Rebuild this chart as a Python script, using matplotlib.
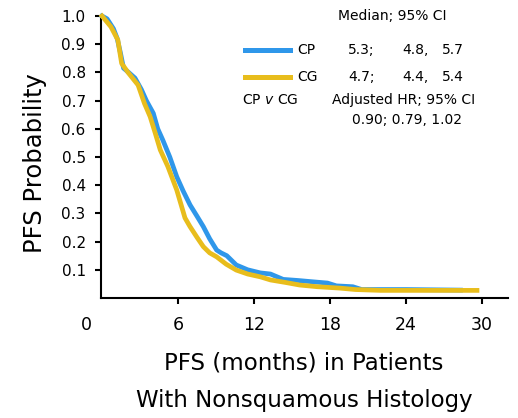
import matplotlib
matplotlib.use("Agg")
import matplotlib.pyplot as plt
from matplotlib.lines import Line2D
from matplotlib import font_manager

# ---- data ----
cp_t = [0, 0.4, 0.9, 1.2, 1.45, 1.7, 2.1, 2.6, 3.1, 3.5, 4.05, 4.4, 4.8, 5.35, 5.9, 6.4,
        6.95, 7.5, 8.0, 8.5, 9.05, 9.4, 9.85, 10.6, 11.5, 12.5, 13.3, 14.3, 15.5, 16.5,
        17.8, 18.5, 19.8, 20.5, 24.0, 28.3]
cp_s = [1.0, 0.99, 0.955, 0.92, 0.87, 0.815, 0.80, 0.78, 0.74, 0.70, 0.655, 0.60, 0.56,
        0.50, 0.43, 0.38, 0.33, 0.29, 0.253, 0.21, 0.17, 0.16, 0.15, 0.117, 0.10, 0.089,
        0.085, 0.066, 0.062, 0.058, 0.053, 0.043, 0.04, 0.03, 0.03, 0.028]

cg_t = [0, 0.7, 1.25, 1.55, 2.05, 2.85, 3.35, 3.8, 4.2, 4.6, 5.2, 5.9, 6.55, 6.95, 7.5,
        8.0, 8.5, 9.05, 9.8, 10.6, 11.5, 12.5, 13.3, 14.5, 15.6, 17.0, 18.8, 20.0, 22.0,
        25.0, 29.6]
cg_s = [1.0, 0.962, 0.915, 0.832, 0.80, 0.755, 0.69, 0.643, 0.585, 0.525, 0.466, 0.383,
        0.284, 0.253, 0.215, 0.182, 0.16, 0.146, 0.12, 0.099, 0.085, 0.075, 0.064, 0.055,
        0.046, 0.04, 0.035, 0.03, 0.027, 0.027, 0.027]

x_ticks = [6, 12, 18, 24, 30]
x_ticklabels = ["6", "12", "18", "24", "30"]
y_ticks = [0.1, 0.2, 0.3, 0.4, 0.5, 0.6, 0.7, 0.8, 0.9, 1.0]
y_ticklabels = ["0.1", "0.2", "0.3", "0.4", "0.5", "0.6", "0.7", "0.8", "0.9", "1.0"]

series_names = ["CP", "CG"]
medians = [["5.3;", "4.8,", "5.7"], ["4.7;", "4.4,", "5.4"]]
hr_text = "0.90; 0.79, 1.02"

BLUE = "#2f97ea"
YELLOW = "#e8bd1c"

plt.rcParams["font.family"] = ["DejaVu Sans"]

W, H = 518, 418
fig = plt.figure(figsize=(W / 100, H / 100), dpi=100)

def fx(px):
    return px / W

def fy(py):
    return 1 - py / H

ax = fig.add_axes([fx(101), fy(298), fx(508) - fx(101), fy(16) - fy(298)])
ax.set_xlim(-0.08, 32.05)
ax.set_ylim(0, 1.0)

ax.plot(cp_t, cp_s, color=BLUE, lw=3.4, solid_joinstyle="round", clip_on=False, zorder=3)
ax.plot(cg_t, cg_s, color=YELLOW, lw=3.4, solid_joinstyle="round", clip_on=False, zorder=4)

for s in ["top", "right"]:
    ax.spines[s].set_visible(False)
for s in ["left", "bottom"]:
    ax.spines[s].set_linewidth(1.5)
    ax.spines[s].set_color("black")

TICK_LEN, XPAD = 4, 9
ax.set_xticks(x_ticks)
ax.set_xticklabels(x_ticklabels, fontsize=12.5)
ax.set_yticks(y_ticks)
ax.set_yticklabels(y_ticklabels, fontsize=11)
ax.tick_params(axis="x", direction="out", length=TICK_LEN, width=1.5, pad=XPAD)
ax.tick_params(axis="y", direction="out", length=TICK_LEN, width=1.5, pad=7)
ax.annotate("0", xy=(-1.2, 0), xycoords=("data", "axes fraction"),
            xytext=(0, -(TICK_LEN + XPAD)), textcoords="offset points",
            ha="center", va="top", fontsize=12.5, annotation_clip=False)

# y label
fig.text(fx(35), fy(163), "PFS Probability", rotation=90, ha="center", va="center",
         fontsize=17.5)

# x label (condensed font if available)
names = {f.name for f in font_manager.fontManager.ttflist}
if "Liberation Sans Narrow" in names:
    xl_family, xl_size = ["Liberation Sans Narrow", "DejaVu Sans"], 20
else:
    xl_family, xl_size = ["DejaVu Sans"], 16.5
fig.text(fx(304), fy(363), "PFS (months) in Patients", ha="center", va="center",
         fontsize=xl_size, family=xl_family)
fig.text(fx(304), fy(400), "With Nonsquamous Histology", ha="center", va="center",
         fontsize=xl_size, family=xl_family)

# legend / annotation block
fs = 10
fig.text(fx(338), fy(16), "Median; 95% CI", ha="left", va="center", fontsize=fs)
rows_y = [50, 77]
colors = [BLUE, YELLOW]
for name, vals, yy, c in zip(series_names, medians, rows_y, colors):
    fig.add_artist(Line2D([fx(245), fx(290)], [fy(yy), fy(yy)], color=c, lw=3.6,
                          transform=fig.transFigure))
    fig.text(fx(297), fy(yy), name, ha="left", va="center", fontsize=fs)
    for v, xx in zip(vals, [348, 402, 442]):
        fig.text(fx(xx), fy(yy), v, ha="left", va="center", fontsize=fs)

fig.text(fx(242), fy(100), "CP $\\it{v}$ CG", ha="left", va="center", fontsize=fs)
fig.text(fx(332), fy(100), "Adjusted HR; 95% CI", ha="left", va="center", fontsize=fs)
fig.text(fx(352), fy(120), hr_text, ha="left", va="center", fontsize=fs)

fig.savefig("out.png", dpi=100)
